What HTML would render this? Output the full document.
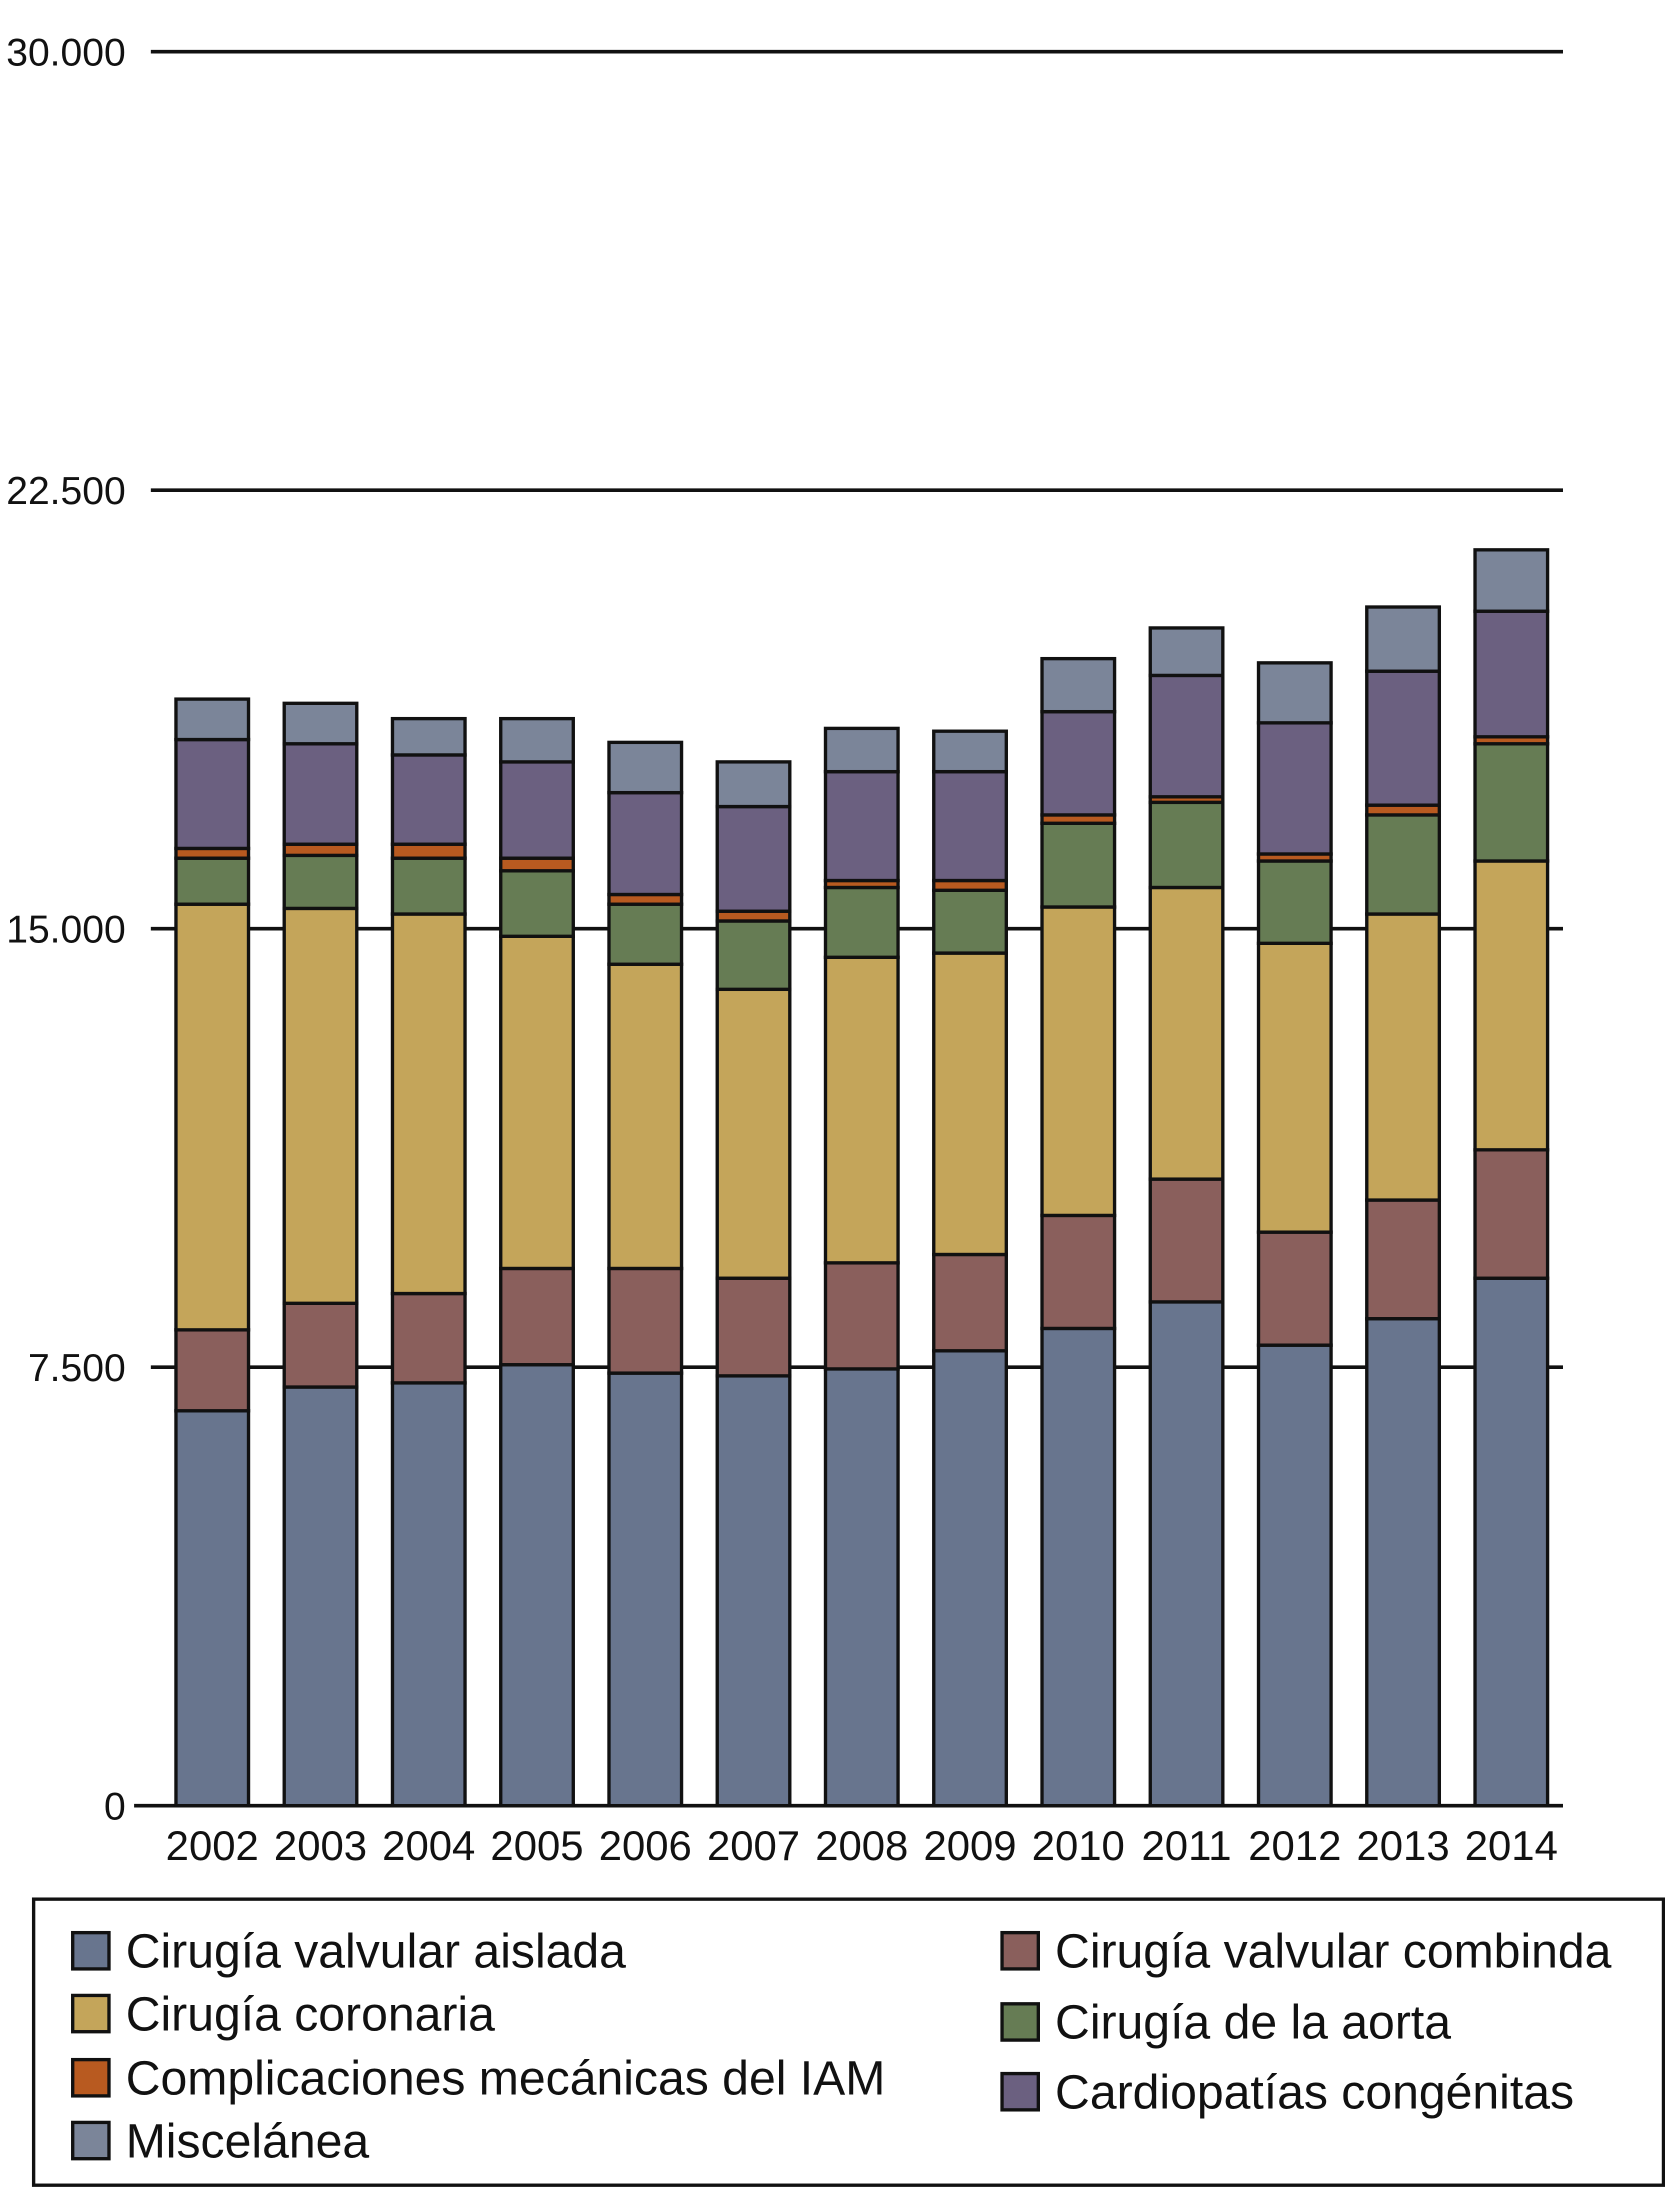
<!DOCTYPE html>
<html><head><meta charset="utf-8"><style>
html,body{margin:0;padding:0;background:#fff}
svg{display:block}
text{font-family:"Liberation Sans",sans-serif;fill:#111}
</style></head><body>
<svg id="chart" width="1665" height="2188" viewBox="0 0 1193 1568" xmlns="http://www.w3.org/2000/svg">
<g id="grid"></g>
<g id="bars"></g>
<g id="xlabels"></g>
<g id="ylabels"></g>
<g>
<rect x="24" y="1361" width="1168" height="205" fill="#fff" stroke="#111" stroke-width="2.4"/>
<g id="legend"></g>
</g>
</svg>
<script>
const years=["2002","2003","2004","2005","2006","2007","2008","2009","2010","2011","2012","2013","2014"];
const yTicks=[0,7500,15000,22500,30000];
const yTickLabels=["0","7.500","15.000","22.500","30.000"];
const seriesNames=["Cirugía valvular aislada","Cirugía valvular combinda","Cirugía coronaria","Cirugía de la aorta","Complicaciones mecánicas del IAM","Cardiopatías congénitas","Miscelánea"];
const valvular=[6754,7160,7231,7542,7398,7351,7470,7780,8162,8616,7876,8329,9021];
const combinada=[1384,1432,1528,1646,1790,1670,1814,1647,1933,2100,1933,2029,2196];
const coronaria=[7280,6754,6491,5681,5203,4941,5226,5155,5275,4988,4940,4892,4940];
const aorta=[787,907,955,1121,1027,1169,1194,1074,1432,1456,1408,1695,2005];
const iam=[167,191,239,215,166,167,119,167,143,95,120,167,119];
const congenitas=[1862,1718,1527,1647,1742,1790,1862,1862,1766,2076,2243,2291,2148];
const miscelanea=[692,692,621,740,860,764,740,692,907,812,1026,1098,1050];
const series=[valvular,combinada,coronaria,aorta,iam,congenitas,miscelanea];
const colors=["#68758e","#8a5f5c","#c4a55a","#667c54","#b85a20","#6b6080","#7b8599"];
const keys=["valvular","combinada","coronaria","aorta","iam","congenitas","miscelanea"];
const NS="http://www.w3.org/2000/svg";
const y0=1294,y1=37,yMax=30000;
const yS=v=>y0-(v/yMax)*(y0-y1);
const xS=i=>152+i*77.58;
const bw=52;
function mk(t,a,p){const e=document.createElementNS(NS,t);for(const k in a)e.setAttribute(k,a[k]);p.appendChild(e);return e;}
const grid=document.getElementById('grid');
yTicks.forEach((t,i)=>{
  const l=mk('line',{x1:i==0?96:108,x2:1120,y1:yS(t),y2:yS(t),stroke:'#111','stroke-width':2.6},grid);
  
  
  const tx=mk('text',{x:90,y:yS(t)+10,'text-anchor':'end','font-size':28},document.getElementById('ylabels'));
  tx.textContent=yTickLabels[i];
  
  
});
const bars=document.getElementById('bars');
years.forEach((yr,i)=>{
  let cum=0;
  series.forEach((s,j)=>{
    const top=yS(cum+s[i]),bot=yS(cum);
    const r=mk('rect',{x:xS(i)-bw/2,y:top,width:bw,height:bot-top,fill:colors[j],stroke:'#111','stroke-width':2.4},bars);
    
    
    cum+=s[i];
  });
  const tx=mk('text',{x:xS(i),y:1333,'text-anchor':'middle','font-size':30},document.getElementById('xlabels'));
  tx.textContent=yr;
  
  
});
const legendPos=[[52,1398],[718,1398],[52,1443],[718,1449],[52,1489],[718,1499],[52,1534]];
const lg=document.getElementById('legend');
legendPos.forEach((p,j)=>{
  const r=mk('rect',{x:p[0],y:p[1]-13,width:26,height:26,fill:colors[j],stroke:'#111','stroke-width':2.4},lg);
  
  
  const t=mk('text',{x:p[0]+38,y:p[1]+12,'font-size':34.5},lg);
  t.textContent=seriesNames[j];
  
  
});
</script>
</body></html>
